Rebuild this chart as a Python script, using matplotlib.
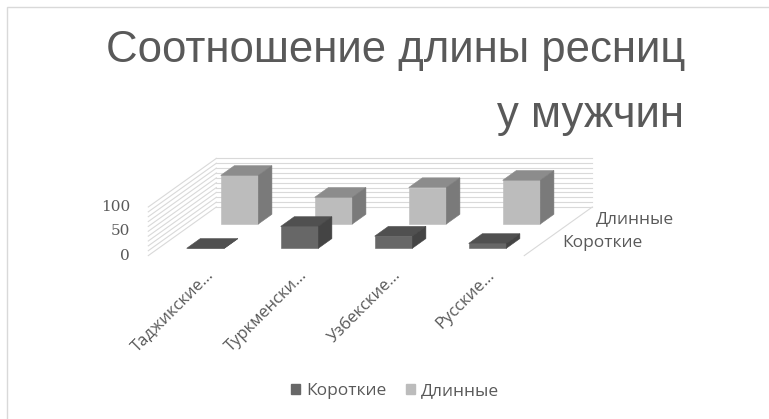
import matplotlib.pyplot as plt
from matplotlib.patches import Patch, Rectangle

categories = ["Таджикские...", "Туркменски...", "Узбекские...", "Русские..."]
series_names = ["Короткие", "Длинные"]
short_vals = [0, 45, 25, 10]
long_vals = [100, 55, 75, 90]
z_ticks = [0, 50, 100]
grid_levels = list(range(0, 101, 10))

front_colors = ["#676767", "#bcbcbc"]
top_colors = ["#505050", "#8c8c8c"]
side_colors = ["#444444", "#7a7a7a"]
text_col = "#595959"
grid_col = "#d9d9d9"

# oblique projection: depth row shifts right (category units) and up (value units)
KX = 0.362
KZ = 50.0
BW = 0.4
BD = 0.4
D_FRONT, D_BACK = -0.3, 1.7
X_LEFT, X_RIGHT = -0.5, 3.5


def proj(x, d, z):
    return x + KX * d, z + KZ * d


fig = plt.figure(figsize=(7.69, 4.19), dpi=100)
ax = fig.add_axes([0, 0, 1, 1])
ax.set_xlim(-2.186, 5.995)
ax.set_ylim(-351.2, 510.9)
ax.axis("off")


def face(pts, color):
    xs, ys = zip(*[proj(*p) for p in pts])
    ax.fill(xs, ys, color=color, lw=0.4, ec=color, zorder=2)


def line3(p0, p1):
    a, b = proj(*p0), proj(*p1)
    ax.plot([a[0], b[0]], [a[1], b[1]], color=grid_col, lw=0.8, zorder=0)


# walls
for z in grid_levels:
    line3((X_LEFT, D_BACK, z), (X_RIGHT, D_BACK, z))
    line3((X_LEFT, D_FRONT, z), (X_LEFT, D_BACK, z))
line3((X_RIGHT, D_FRONT, 0), (X_RIGHT, D_BACK, 0))

# bars, back row first
rows = [short_vals, long_vals]
for r in [1, 0]:
    d0, d1 = r, r + BD
    for i, h in enumerate(rows[r]):
        x0, x1 = i - BW / 2, i + BW / 2
        fx, fz = proj(i, d0, 0)
        ax.bar(fx, h, width=BW, bottom=fz, color=front_colors[r],
               edgecolor=front_colors[r], linewidth=0.4, zorder=2)
        face([(x0, d0, h), (x1, d0, h), (x1, d1, h), (x0, d1, h)], top_colors[r])
        face([(x1, d0, 0), (x1, d1, 0), (x1, d1, h), (x1, d0, h)], side_colors[r])

# value axis labels
for z in z_ticks:
    ax.annotate(str(z), xy=proj(X_LEFT, D_FRONT, z), xytext=(-13, 0),
                textcoords="offset points", ha="right", va="center",
                fontsize=11, color=text_col, family="DejaVu Serif")

# category labels
for i, c in enumerate(categories):
    ax.annotate(c, xy=proj(i, D_FRONT, 0), xytext=(7, -8),
                textcoords="offset points", ha="right", va="top",
                rotation=45, rotation_mode="anchor",
                fontsize=12, color=text_col, family="Open Sans")

# depth labels
for r, name in enumerate(series_names):
    ax.annotate(name, xy=proj(X_RIGHT, r + BD / 2, 0), xytext=(15, 0),
                textcoords="offset points", ha="left", va="center",
                fontsize=12.5, color=text_col, family="Open Sans")

# title
fig.text(685 / 769, 1 - 62 / 419, "Соотношение длины ресниц", ha="right",
         va="baseline", fontsize=31.5, color=text_col, family="Liberation Sans")
fig.text(684 / 769, 1 - 127 / 419, "у мужчин", ha="right",
         va="baseline", fontsize=31.5, color=text_col, family="Liberation Sans")

handles = [Patch(color=front_colors[k], label=series_names[k]) for k in range(2)]
leg = fig.legend(handles=handles, loc="center", bbox_to_anchor=(395 / 769, 1 - 391 / 419),
                 ncol=2, frameon=False, handlelength=0.55, handleheight=0.55,
                 handletextpad=0.35, columnspacing=1.1,
                 prop={"family": "Open Sans", "size": 12.5})
for t in leg.get_texts():
    t.set_color(text_col)

# chart border (cropped at right and bottom)
fig.patches.append(Rectangle((7 / 769, -0.1), 1.2, (419 - 7) / 419 + 0.1,
                             transform=fig.transFigure, fill=False,
                             edgecolor=grid_col, linewidth=1))

fig.savefig("out.png", dpi=100)
